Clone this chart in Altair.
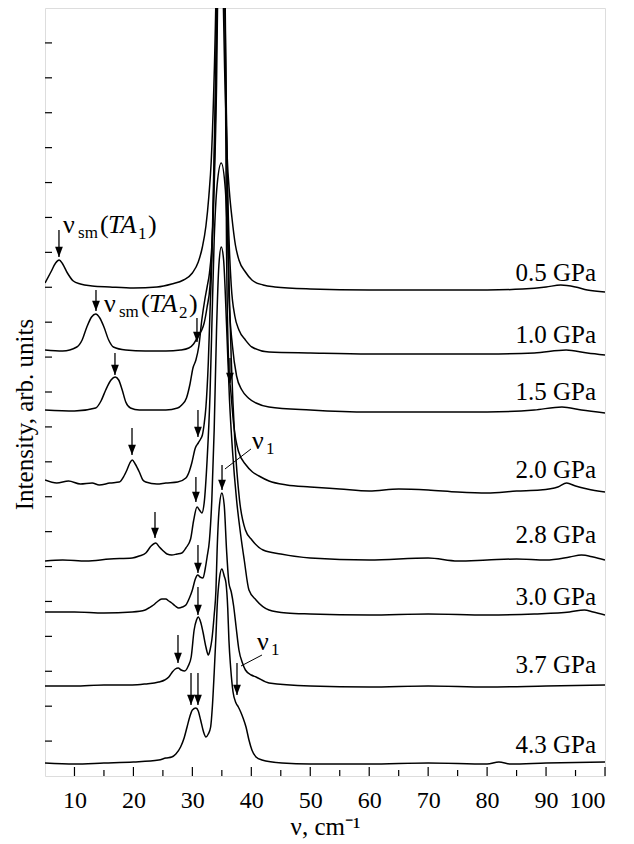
import altair as alt
import pandas as pd

# ---------------- data (x in cm^-1, intensity in arb. units, stacked traces) ----------------
pressures = ["0.5 GPa", "1.0 GPa", "1.5 GPa", "2.0 GPa", "2.8 GPa", "3.0 GPa", "3.7 GPa", "4.3 GPa"]

p05_x = [5.0, 6.0, 6.8, 7.4, 8.0, 8.8, 9.8, 11.0, 13.0, 16.0, 20.0, 24.0, 26.5, 28.5, 30.0, 31.0, 31.7, 32.3,
         32.8, 33.2, 33.6, 34.0, 34.6, 35.1, 35.5, 35.9, 36.3, 36.7, 37.3, 37.9, 39.0, 40.1, 42.0, 44.0, 50, 60,
         70, 80, 86, 90, 92.5, 95, 97, 100]
p05_y = [493, 504, 513, 516, 512, 503, 495, 492, 490, 489, 488, 489, 492, 496, 503, 514, 529, 550,
         580, 615, 680, 780, 1100, 820, 700, 620, 583, 559, 531, 516, 504, 496, 491, 489, 487, 486,
         486, 486, 487, 489, 491, 489, 486, 484]

p10_x = [5.0, 8.0, 10.4, 11.3, 12.1, 12.9, 13.6, 14.3, 15.0, 15.8, 16.6, 18.7, 22, 25.5, 28.0, 29.4, 30.2,
         30.8, 31.2, 31.6, 32.0, 32.5, 33.0, 33.5, 33.9, 34.3, 34.8, 35.4, 35.8, 36.2, 36.6, 37.2, 37.9,
         39.0, 40.1, 43, 50, 60, 70, 80, 88, 93.4, 97, 100]
p10_y = [426, 425, 429, 436, 449, 459, 462, 458, 449, 436, 429, 426, 425, 425, 426, 428, 432,
         438, 442, 446, 453, 469, 491, 556, 656, 826, 1200, 830, 640, 540, 490, 460, 446,
         436, 429, 424, 423, 422, 422, 422, 423, 426, 423, 421]

p15_x = [5.0, 10, 13.6, 14.5, 15.3, 16.2, 16.9, 17.5, 18.1, 18.7, 19.5, 21, 25.5, 27.5, 28.2, 29.0, 29.6,
         30.1, 30.6, 31.1, 31.6, 32.1, 32.5, 32.9, 33.3, 33.7, 34.1, 34.5, 35.0, 35.4, 35.8, 36.2, 36.8,
         37.5, 38.4, 39.5, 40.8, 43, 50, 60, 70, 80, 88, 92.7, 96, 100]
p15_y = [366, 365, 368, 375, 386, 396, 399, 396, 386, 374, 368, 366, 366, 368, 371, 378, 392,
         408, 416, 430, 456, 476, 489, 503, 530, 590, 690, 880, 1200, 860, 650, 480, 430,
         400, 386, 378, 373, 369, 366, 364, 364, 364, 366, 369, 366, 363]

p20_x = [5.0, 7, 9, 11, 13, 14.2, 16, 17.6, 18.4, 18.9, 19.4, 19.8, 20.3, 21.0, 21.6, 22.1, 24, 25.5,
         27.5, 28.9, 29.5, 29.9, 30.5, 31.0, 31.4, 31.7, 32.0, 32.3, 32.7, 33.0, 33.3, 33.7, 34.1, 34.5,
         35.0, 35.4, 35.8, 36.2, 36.5, 37.0, 37.8, 39.1, 40.2, 41.3, 43, 46, 50, 55, 60, 65, 70, 75, 80,
         85, 89, 92, 93.5, 95, 97, 100]
p20_y = [296, 293, 295, 292, 293, 291, 293, 294, 300, 306, 313, 316, 312, 304, 296, 294, 292, 293,
         294, 298, 305, 313, 328, 333, 337, 341, 352, 369, 413, 466, 516, 626, 756, 980,
         1300, 900, 526, 406, 386, 352, 325, 311, 304, 300, 295, 291, 289, 287, 285, 287, 286, 284, 283,
         285, 286, 289, 293, 290, 287, 284]

p28_x = [5.0, 8, 12, 16, 19.8, 21.0, 22.1, 23.0, 23.8, 24.4, 24.9, 25.7, 26.5, 27.4, 28.2, 28.9, 29.7,
         30.2, 30.8, 31.2, 31.6, 32.0, 32.5, 33.0, 33.3, 33.7, 34.2, 34.9, 35.6, 36.1, 36.6, 37.2, 38.0,
         39.0, 40.1, 42, 45, 50, 60, 70, 75, 80, 85, 90, 94, 96, 98, 100]
p28_y = [215, 216, 215, 217, 218, 220, 223, 230, 233, 229, 226, 222, 221, 222, 223, 228, 237,
         255, 269, 266, 263, 273, 316, 383, 449, 536, 591, 613, 586, 516, 416, 336, 276,
         246, 236, 226, 222, 218, 216, 218, 215, 216, 217, 216, 219, 221, 219, 216]

p30_x = [5.0, 10, 15, 19.8, 22.0, 22.6, 23.4, 24.0, 24.8, 25.5, 26.0, 26.5, 27.1, 27.7, 28.3, 28.9, 29.5,
         30.0, 30.5, 30.9, 31.3, 31.8, 32.2, 32.5, 32.9, 33.3, 33.7, 34.1, 34.5, 34.9, 35.3, 35.8, 36.3,
         36.8, 37.5, 38.2, 38.8, 39.6, 40.8, 43, 46, 50, 60, 70, 80, 88, 94, 96.5, 98, 100]
p30_y = [164, 164, 163, 164, 166, 168, 171, 174, 177, 177, 175, 173, 170, 168, 169, 171, 178,
         186, 197, 201, 199, 198, 208, 219, 236, 276, 346, 446, 511, 529, 516, 451, 376,
         326, 276, 241, 216, 186, 176, 166, 163, 162, 161, 162, 161, 162, 164, 166, 164, 161]

p37_x = [5.0, 10, 15, 19.8, 22, 24.3, 25.3, 26.0, 26.6, 27.1, 27.6, 28.1, 28.7, 29.3, 29.8, 30.3, 30.7,
         31.0, 31.4, 31.8, 32.3, 32.7, 33.0, 33.3, 33.7, 34.0, 34.2, 34.6, 35.0, 35.4, 35.8, 36.2, 36.6,
         37.0, 37.4, 37.9, 38.5, 39.0, 40.0, 40.8, 43, 50, 60, 70, 80, 90, 100]
p37_y = [90, 90, 91, 91, 92, 94, 96, 99, 104, 107, 108, 106, 105, 110, 119, 146, 156,
         159, 154, 144, 129, 121, 126, 136, 161, 186, 226, 271, 283, 271, 226, 193, 184,
         170, 150, 126, 113, 106, 101, 99, 93, 90, 89, 90, 89, 90, 91]

p43_x = [5.0, 10, 15, 20, 24.3, 25.5, 26.5, 27.2, 28.0, 28.6, 29.1, 29.6, 30.0, 30.6, 31.0, 31.4, 31.9,
         32.3, 32.7, 33.1, 33.4, 33.7, 34.0, 34.2, 34.6, 35.0, 35.4, 35.7, 36.0, 36.2, 36.5, 36.9, 37.4,
         37.8, 38.2, 38.6, 39.1, 39.6, 40.1, 40.8, 41.8, 45.2, 50, 60, 70, 80, 82, 84, 90, 100]
p43_y = [13, 12, 13, 14, 16, 18, 19, 22, 29, 38, 49, 60, 66, 68, 65, 56, 44,
         39, 42, 49, 70, 103, 140, 169, 198, 207, 200, 193, 168, 136, 108, 84, 73,
         69, 64, 58, 49, 36, 26, 19, 16, 13, 12, 12, 13, 12, 14, 12, 13, 14]

series_x = [p05_x, p10_x, p15_x, p20_x, p28_x, p30_x, p37_x, p43_x]
series_y = [p05_y, p10_y, p15_y, p20_y, p28_y, p30_y, p37_y, p43_y]

# pressure labels (right side)
label_x = [98.47] * 8
label_y = [495, 433, 376, 298, 233, 171, 103, 23]

# arrows: x, top, tip
arrow_x = [7.37, 13.65, 30.78, 16.87, 36.38, 19.76, 30.95, 35.03, 30.6, 23.66, 30.95, 30.95, 27.56, 29.77, 30.95, 37.57]
arrow_top = [546, 486, 458, 423, 418, 348, 366, 311, 299, 264, 231, 189, 141, 103, 103, 113]
arrow_tip = [519, 465, 434, 401, 393, 321, 339, 286, 274, 238, 203, 161, 113, 71, 71, 81]

# annotation texts
ann_text = ["ν", "(", ")", "ν", "(", ")", "ν", "ν"]
ann_x = [8.05, 14.33, 22.47, 15.01, 21.28, 29.43, 40.11, 40.96]
ann_y = [543, 543, 543, 464, 464, 464, 327, 126]
ital_text = ["TA", "TA"]
ital_x = [15.69, 22.64]
ital_y = [543, 464]
sub_text = ["sm", "1", "sm", "2", "1", "1"]
sub_x = [10.60, 20.78, 17.55, 27.73, 42.49, 43.34]
sub_y = [538, 537, 459, 458, 322, 121]

# leader lines for nu1
lead_x = [39.94, 41.81]
lead_x2 = [35.53, 38.25]
lead_y = [327, 121]
lead_y2 = [307, 110]

xtick_major = [10, 20, 30, 40, 50, 60, 70, 80, 90, 100]
xtick_minor = [15, 25, 35, 45, 55, 65, 75, 85, 95]
ytick_vals = [round(768 / 22 * k, 2) for k in range(1, 22)]

# ---------------- frames ----------------
rows = []
for name, xs_, ys_ in zip(pressures, series_x, series_y):
    for a, b in zip(xs_, ys_):
        rows.append({"p": name, "x": a, "I": b})
spec = pd.DataFrame(rows)
labels = pd.DataFrame({"x": label_x, "I": label_y, "t": pressures})
arrows = pd.DataFrame({"x": arrow_x, "I": arrow_top, "tip": arrow_tip})
heads_df = pd.DataFrame({"x": arrow_x, "I": arrow_tip})
ann = pd.DataFrame({"x": ann_x, "I": ann_y, "t": ann_text})
ital = pd.DataFrame({"x": ital_x, "I": ital_y, "t": ital_text})
sub = pd.DataFrame({"x": sub_x, "I": sub_y, "t": sub_text})
lead = pd.DataFrame({"x": lead_x, "x2": lead_x2, "I": lead_y, "I2": lead_y2})
xmaj = pd.DataFrame({"x": xtick_major})
xmin = pd.DataFrame({"x": xtick_minor})
ytk = pd.DataFrame({"I": ytick_vals})

FONT = "Liberation Serif"
xs = alt.Scale(domain=[5, 100], nice=False, zero=False)
ys = alt.Scale(domain=[0, 768], nice=False, zero=False)

X_AX = alt.Axis(
    values=xtick_major, tickSize=0, domain=False, grid=False, labelFont=FONT, labelFontSize=24,
    labelColor="black", labelPadding=12, title="ν, cm⁻¹", titleFont=FONT, titleFontSize=25,
    titleFontWeight="normal", titleColor="black", titlePadding=2)
Y_AX = alt.Axis(
    labels=False, ticks=False, domain=False, grid=False, title="Intensity, arb. units",
    titleFont=FONT, titleFontSize=25, titleFontWeight="normal", titleColor="black",
    titlePadding=8, titleY=406)
X = alt.X("x:Q", scale=xs, axis=X_AX, title="ν, cm⁻¹")
Y = alt.Y("I:Q", scale=ys, axis=Y_AX, title="Intensity, arb. units")

lines = alt.Chart(spec).mark_line(color="black", strokeWidth=1.5, interpolate="monotone", clip=True).encode(
    x=X, y=Y, detail="p:N")

lab = alt.Chart(labels).mark_text(align="right", baseline="alphabetic", font=FONT, fontSize=25,
                                  color="black").encode(x=X, y=Y, text="t:N")

shafts = alt.Chart(arrows).mark_rule(color="black", strokeWidth=1.3).encode(
    x=X, y=Y, y2=alt.Y2("tip:Q"))
heads = alt.Chart(heads_df).mark_point(shape="M0,0L-0.38,-1L0.38,-1Z", filled=True, size=420,
                                       color="black", opacity=1, strokeWidth=0).encode(x=X, y=Y)

t_norm = alt.Chart(ann).mark_text(align="left", baseline="alphabetic", font=FONT, fontSize=26,
                                  color="black").encode(x=X, y=Y, text="t:N")
t_ital = alt.Chart(ital).mark_text(align="left", baseline="alphabetic", font=FONT, fontSize=26,
                                   fontStyle="italic", color="black").encode(x=X, y=Y, text="t:N")
t_sub = alt.Chart(sub).mark_text(align="left", baseline="alphabetic", font=FONT, fontSize=17,
                                 color="black").encode(x=X, y=Y, text="t:N")

leaders = alt.Chart(lead).mark_rule(color="black", strokeWidth=1).encode(
    x=X, x2=alt.X2("x2:Q"), y=Y, y2=alt.Y2("I2:Q"))

tk_major = alt.Chart(xmaj).mark_rule(color="black", strokeWidth=1.2).encode(
    x=X, y=alt.value(768), y2=alt.value(759))
tk_minor = alt.Chart(xmin).mark_rule(color="black", strokeWidth=1.2).encode(
    x=X, y=alt.value(768), y2=alt.value(762))
tk_y = alt.Chart(ytk).mark_rule(color="black", strokeWidth=1.2).encode(
    y=Y, x=alt.value(0), x2=alt.value(7))

chart = alt.layer(lines, lab, shafts, heads, t_norm, t_ital, t_sub, leaders, tk_major, tk_minor, tk_y).properties(
    width=560, height=768, padding={"left": 4, "top": 0, "right": 0, "bottom": 0}
).configure_view(stroke="black", strokeWidth=1.3).configure(background="white")

chart.save("out.html", embed_options={"renderer": "svg", "actions": False})
